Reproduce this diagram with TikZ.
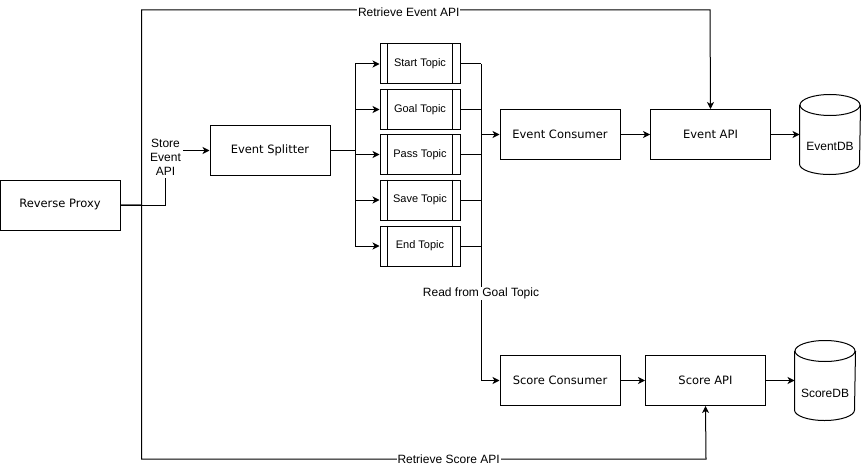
\documentclass[tikz,border=0pt]{standalone}
\usepackage{fontspec}
\setmainfont{Liberation Sans}
\newfontfamily\boxfont{DejaVu Sans}
\usetikzlibrary{arrows.meta}

\newcommand\dbdraw[1]{%
	\draw ([yshift=-10.5pt]#1.north) ellipse [x radius=30pt,y radius=10.5pt];
	\draw ([yshift=-10.5pt]#1.north west) -- ([yshift=10.5pt]#1.south west)
		arc [start angle=180,end angle=360,x radius=30pt,y radius=10.5pt] -- ([yshift=-10.5pt]#1.north east);}

\begin{document}
\begin{tikzpicture}[x=1pt,y=-1pt,line width=1pt,
		box/.style={draw,minimum width=120pt,minimum height=50pt,font=\boxfont\fontsize{11.5}{14}\selectfont},
		topic/.style={draw,minimum width=80pt,minimum height=40pt,font=\fontsize{11}{13}\selectfont},
		db/.style={minimum width=60pt,minimum height=79pt,inner sep=0pt,font=\fontsize{12}{14}\selectfont},
		lbl/.style={fill=white,inner sep=1pt,font=\fontsize{12}{14}\selectfont},
		arr/.style={-{Stealth[length=7pt,width=7pt,inset=2pt]}}]
		\useasboundingbox (0,0) rectangle (861,468);
		\node[box] (proxy) at (60,205) {Reverse Proxy};
		\node[box] (split) at (270,150.5) {Event Splitter};
		\node[align=center,inner sep=2pt,font=\fontsize{12}{14}\selectfont] (store) at (165.5,157) {Store\\Event\\API};
		\foreach \t/\name/\y in {start/Start/64,goal/Goal/109.5,pass/Pass/154.5,save/Save/200,end/End/246}{
			\node[topic] (\t) at (420,\y) {\name{} Topic};
			\draw ([xshift=8pt]\t.north west) -- ([xshift=8pt]\t.south west);
			\draw ([xshift=-8pt]\t.north east) -- ([xshift=-8pt]\t.south east);
		}
		\node[box] (econs) at (560,134.5) {Event Consumer};
		\node[box] (eapi) at (710.5,134.5) {Event API};
		\node[db] (edb) at (830,134.5) {\raisebox{-16pt}[0pt][0pt]{EventDB}};
		\dbdraw{edb}
		\node[box] (scons) at (560,380.5) {Score Consumer};
		\node[box] (sapi) at (705.5,380.5) {Score API};
		\node[db] (sdb) at (825,380.5) {\raisebox{-16.5pt}[0pt][0pt]{ScoreDB}};
		\dbdraw{sdb}
		\coordinate (fork) at (355.5,150.5);
		\coordinate (merge) at (481,64);
		\coordinate (etop) at (710,10);
		\coordinate (sbot) at (706,459);
		% store path
		\draw (proxy.east) -| (store.south);
		\draw[arr] (store.east |- split.west) -- (split.west);
		\draw (split.east) -- (fork);
		\foreach \t in {start,goal,pass,save,end}{
			\draw[arr] (fork) |- (\t.west);
			\draw (\t.east) -- (\t.east -| merge);
		}
		% consumers
		\draw (merge) -- (merge |- econs.west);
		\draw[arr] (merge |- econs.west) -- (econs.west);
		\draw[arr] (merge |- econs.west) |- (scons.west) node[lbl,pos=0.323] (read) {Read from Goal Topic};
		\draw[arr] (econs.east) -- (eapi.west);
		\draw[arr] (eapi.east) -- (edb.west);
		\draw[arr] (scons.east) -- (sapi.west);
		\draw[arr] (sapi.east) -- (sdb.west);
		% retrieve paths
		\draw[arr] (proxy.east) -- ++(21,0) |- (etop) node[lbl,pos=0.735,yshift=-2pt] {Retrieve Event API} -- (eapi.north);
		\draw[arr] (proxy.east) -- ++(21,0) |- (sbot) node[lbl,pos=0.772] {Retrieve Score API} -- (sapi.south);
	\end{tikzpicture}
\end{document}
